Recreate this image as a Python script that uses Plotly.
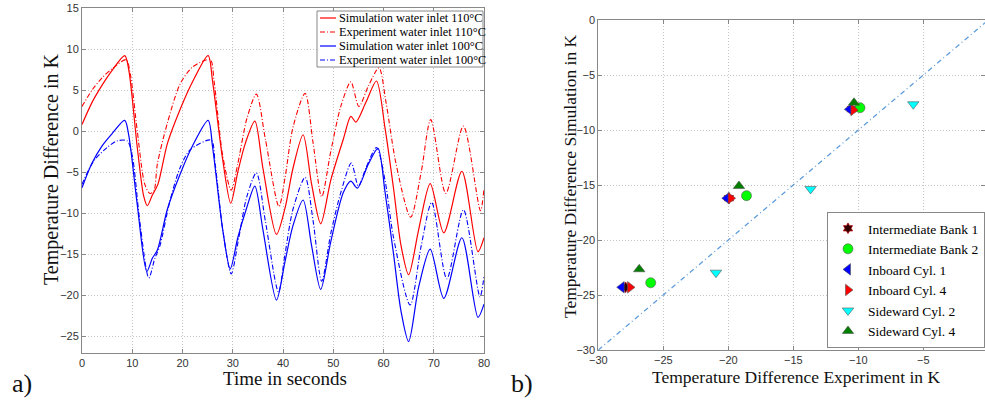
import plotly.graph_objects as go

# ---------------- Panel a) time series ----------------
t_sim110 = [0, 2, 4, 6, 8.5, 9.3, 11, 12.3, 13.0, 14, 15.1, 17, 19.5, 22, 25.1, 26, 28, 29.6, 31, 32.5, 34.4,
            36, 38.7, 40.4, 42, 44, 45.7, 47.5, 49.5, 52, 53.5, 54.5, 56.5, 58.6, 60.3, 62, 63.5, 65, 67,
            69.3, 72, 75.6, 78.8, 80]
v_sim110 = [0.8, 3.5, 5.6, 7.4, 9.2, 7.5, -2, -8, -9.1, -7.8, -6.5, -1.5, 2.6, 6, 9.2, 6, -3.5, -8.8, -5, -1.5, 1.2,
            -4.5, -12.6, -9.4, -4.5, -0.45, -6.5, -11.3, -6, -1.0, 1.8, 1.1, 3.5, 6.1, 0.4, -7, -14, -17.5, -12,
            -6.4, -12.4, -4.9, -14.7, -13.0]

t_exp110 = [0, 2, 4, 6, 8.8, 9.6, 11, 12.5, 13.5, 14.3, 15, 17, 19.5, 22, 25.5, 26.3, 28, 29.7, 31, 32.8, 34.7,
            36.5, 39.2, 40.4, 42, 44.4, 46, 47.7, 49.5, 51.5, 53.5, 55.1, 57, 59.1, 60.5, 62.5, 65.4, 67.5,
            69.4, 72.4, 75.9, 79.3, 80]
v_exp110 = [3.0, 5.0, 6.5, 7.6, 8.7, 7.0, 0, -6.5, -7.6, -7.3, -4, 1, 5.7, 7.8, 8.7, 6, -3, -7.2, -4, 1.5, 4.5,
            -1, -9.2, -5.7, 0.5, 4.6, -1.5, -8.0, -2.5, 3.0, 6.0, 3.0, 5.5, 7.7, 3.5, -4, -10.5, -5,
            1.4, -7.6, 0.6, -9.7, -7.0]

t_sim100 = [0, 2, 4, 6, 8.5, 9.3, 11, 12.9, 14, 15, 17, 19.5, 22, 25.1, 26, 28, 29.5, 31, 32.7, 34.4,
            36, 38.7, 40.4, 42, 44, 45.7, 47.5, 49.5, 52, 53.5, 54.8, 57, 58.9, 60.3, 62, 63.5, 65, 67,
            69.3, 72, 75.6, 78.8, 80]
v_sim100 = [-6.9, -3.9, -1.8, -0.3, 1.3, -0.5, -9, -17.1, -15.5, -14.5, -9.5, -5.3, -1.8, 1.3, -2, -12, -16.8, -13, -9.5, -6.7,
            -12, -20.6, -15.9, -11.5, -8.4, -14, -19.3, -13.5, -7.5, -6.1, -6.95, -4, -2.1, -7.4, -15, -22, -25.65, -19,
            -14.4, -20.4, -13.0, -22.7, -21.1]

t_exp100 = [0, 1.5, 2.8, 5, 7, 9, 10, 11.5, 13.3, 14.5, 15.5, 17.5, 19.5, 21.5, 25.7, 26.5, 28, 29.7, 31.2, 32.8, 34.7,
            36.5, 39.1, 40.4, 42, 44.4, 46, 47.7, 49.5, 51.5, 53.6, 55.0, 56.5, 58.6, 60.3, 62, 65.3, 67.5,
            69.6, 72.6, 75.9, 79.2, 80]
v_exp100 = [-6.5, -4.5, -3.3, -2.0, -1.2, -1.2, -3, -11, -17.9, -15.5, -14, -8.5, -4.5, -2.3, -1.1, -4, -12, -17.4, -13, -8, -5.1,
            -11, -19.6, -15, -9.5, -5.65, -11, -18.3, -12.5, -7.5, -3.9, -6.7, -4.5, -2.0, -6, -13, -21.2, -14,
            -8.7, -18.0, -9.6, -20.2, -17.7]

series_a_names = ["Simulation water inlet 110°C", "Experiment water inlet 110°C",
                  "Simulation water inlet 100°C", "Experiment water inlet 100°C"]
series_a_colors = ["#FF0000", "#FF0000", "#0000FF", "#0000FF"]
DD = "5px,2px,1px,2px"
series_a_dash = ["solid", DD, "solid", DD]

# ---------------- Panel b) scatter ----------------
b_names = ["Intermediate Bank 1", "Intermediate Bank 2", "Inboard Cyl. 1",
           "Inboard Cyl. 4", "Sideward Cyl. 2", "Sideward Cyl. 4"]
ib1_x = [-10.5, -19.95, -27.9]
ib1_y = [-8.1, -16.2, -24.3]
ib2_x = [-9.87, -18.6, -25.97]
ib2_y = [-7.97, -15.97, -23.89]
ic1_x = [-10.69, -20.12, -28.2]
ic1_y = [-8.12, -16.2, -24.3]
ic4_x = [-10.38, -19.82, -27.56]
ic4_y = [-8.18, -16.2, -24.3]
sc2_x = [-5.77, -13.67, -20.95]
sc2_y = [-7.66, -15.36, -22.97]
sc4_x = [-10.33, -19.18, -26.85]
sc4_y = [-7.52, -15.09, -22.66]
ref_line = [-30, 0]

W, H = 985, 403

fig = go.Figure()

a_data = [(t_sim110, v_sim110), (t_exp110, v_exp110), (t_sim100, v_sim100), (t_exp100, v_exp100)]
for (tx, vy), name, col, dsh in zip(a_data, series_a_names, series_a_colors, series_a_dash):
    fig.add_trace(go.Scatter(x=tx, y=vy, mode="lines", name=name, showlegend=False,
                             line=dict(color=col, width=1.2 if dsh == "solid" else 1.1, dash=dsh,
                                       shape="spline", smoothing=0.8),
                             xaxis="x", yaxis="y"))

fig.add_trace(go.Scatter(x=ref_line, y=ref_line, mode="lines", showlegend=False,
                         line=dict(color="#5B9BDB", width=1.2, dash="5px,3px,1px,3px"),
                         xaxis="x2", yaxis="y2"))

edge = dict(color="#555555", width=0.6)
specs = [
    (ib1_x, ib1_y, "hexagram", "#300000", 8, dict(color="#B00000", width=0.8)),
    (ib2_x, ib2_y, "circle", "#00FF00", 10, edge),
    (ic1_x, ic1_y, "triangle-left", "#0000FF", 10, edge),
    (ic4_x, ic4_y, "triangle-right", "#FF0000", 10, edge),
    (sc2_x, sc2_y, "triangle-down", "#00FFFF", 10, edge),
    (sc4_x, sc4_y, "triangle-up", "#007F00", 10, edge),
]
for name, (xs, ys, sym, col, sz, ln) in zip(b_names, specs):
    fig.add_trace(go.Scatter(x=xs, y=ys, mode="markers", name=name,
                             marker=dict(symbol=sym, color=col, size=sz, line=ln),
                             xaxis="x2", yaxis="y2", legend="legend2"))

serif = "Liberation Serif, Times New Roman"
tickfont = dict(family="Liberation Sans, Arial", size=11, color="#333333")
axis_common = dict(showline=True, linecolor="#888888", linewidth=1, mirror="ticks",
                   ticks="inside", ticklen=4, tickcolor="#888888", automargin=False,
                   showgrid=True, gridcolor="#C4C4C4", griddash="1px,2px", gridwidth=1,
                   zeroline=False, tickfont=tickfont)

# custom compact legend for panel a)
shapes = [dict(type="rect", xref="paper", yref="paper",
               x0=317 / W, x1=483 / W, y0=1 - 67 / H, y1=1 - 11 / H,
               fillcolor="white", line=dict(color="#888888", width=1), layer="above")]
annotations = []
for i, (name, col, dsh) in enumerate(zip(series_a_names, series_a_colors, series_a_dash)):
    yy = 1 - (18 + 14 * i) / H
    shapes.append(dict(type="line", xref="paper", yref="paper", x0=320 / W, x1=336 / W, y0=yy, y1=yy,
                       line=dict(color=col, width=1.2, dash=dsh), layer="above"))
    annotations.append(dict(text=name, x=337 / W, y=yy, xref="paper", yref="paper",
                            xanchor="left", yanchor="middle", showarrow=False,
                            font=dict(family=serif, size=12.3, color="#000000")))

def label(text, px, py, size, angle=0):
    return dict(text=text, x=px / W, y=1 - py / H, xref="paper", yref="paper",
                xanchor="center", yanchor="middle", showarrow=False, textangle=angle,
                font=dict(family=serif, size=size, color="#111111"))

annotations += [
    label("Time in seconds", 285, 378, 19),
    label("Temperature Difference in K", 51, 170, 20, -90),
    label("Temperature Difference Experiment in K", 796, 377, 17.5),
    label("Temperature Difference Simulation in K", 570, 176, 17.5, -90),
    label("a)", 22, 383, 26),
    label("b)", 522, 383, 26),
]

fig.update_layout(
    width=W, height=H, margin=dict(l=0, r=0, t=0, b=0),
    paper_bgcolor="white", plot_bgcolor="white",
    xaxis=dict(domain=[82 / W, 484 / W], range=[0, 80], dtick=10, anchor="y", **axis_common),
    yaxis=dict(domain=[1 - 353 / H, 1 - 8 / H], range=[-27.05, 15], dtick=5, anchor="x", **axis_common),
    xaxis2=dict(domain=[598.3 / W, 1.0], range=[-30, -30 + (W - 598.3) / 13], dtick=5, anchor="y2",
                **axis_common),
    yaxis2=dict(domain=[1 - 350 / H, 1 - 20 / H], range=[-30, 0], dtick=5, anchor="x2", **axis_common),
    legend2=dict(x=1.0, y=1 - 348 / H, xanchor="right", yanchor="bottom",
                 bgcolor="white", bordercolor="#888888", borderwidth=1,
                 font=dict(family=serif, size=13.5, color="#000000"),
                 itemwidth=30, tracegroupgap=0),
    showlegend=True,
    shapes=shapes,
    annotations=annotations,
)

fig.write_html("out.html", config={"displayModeBar": False},
               post_script="document.body.style.margin='0px';document.body.style.padding='0px';")
